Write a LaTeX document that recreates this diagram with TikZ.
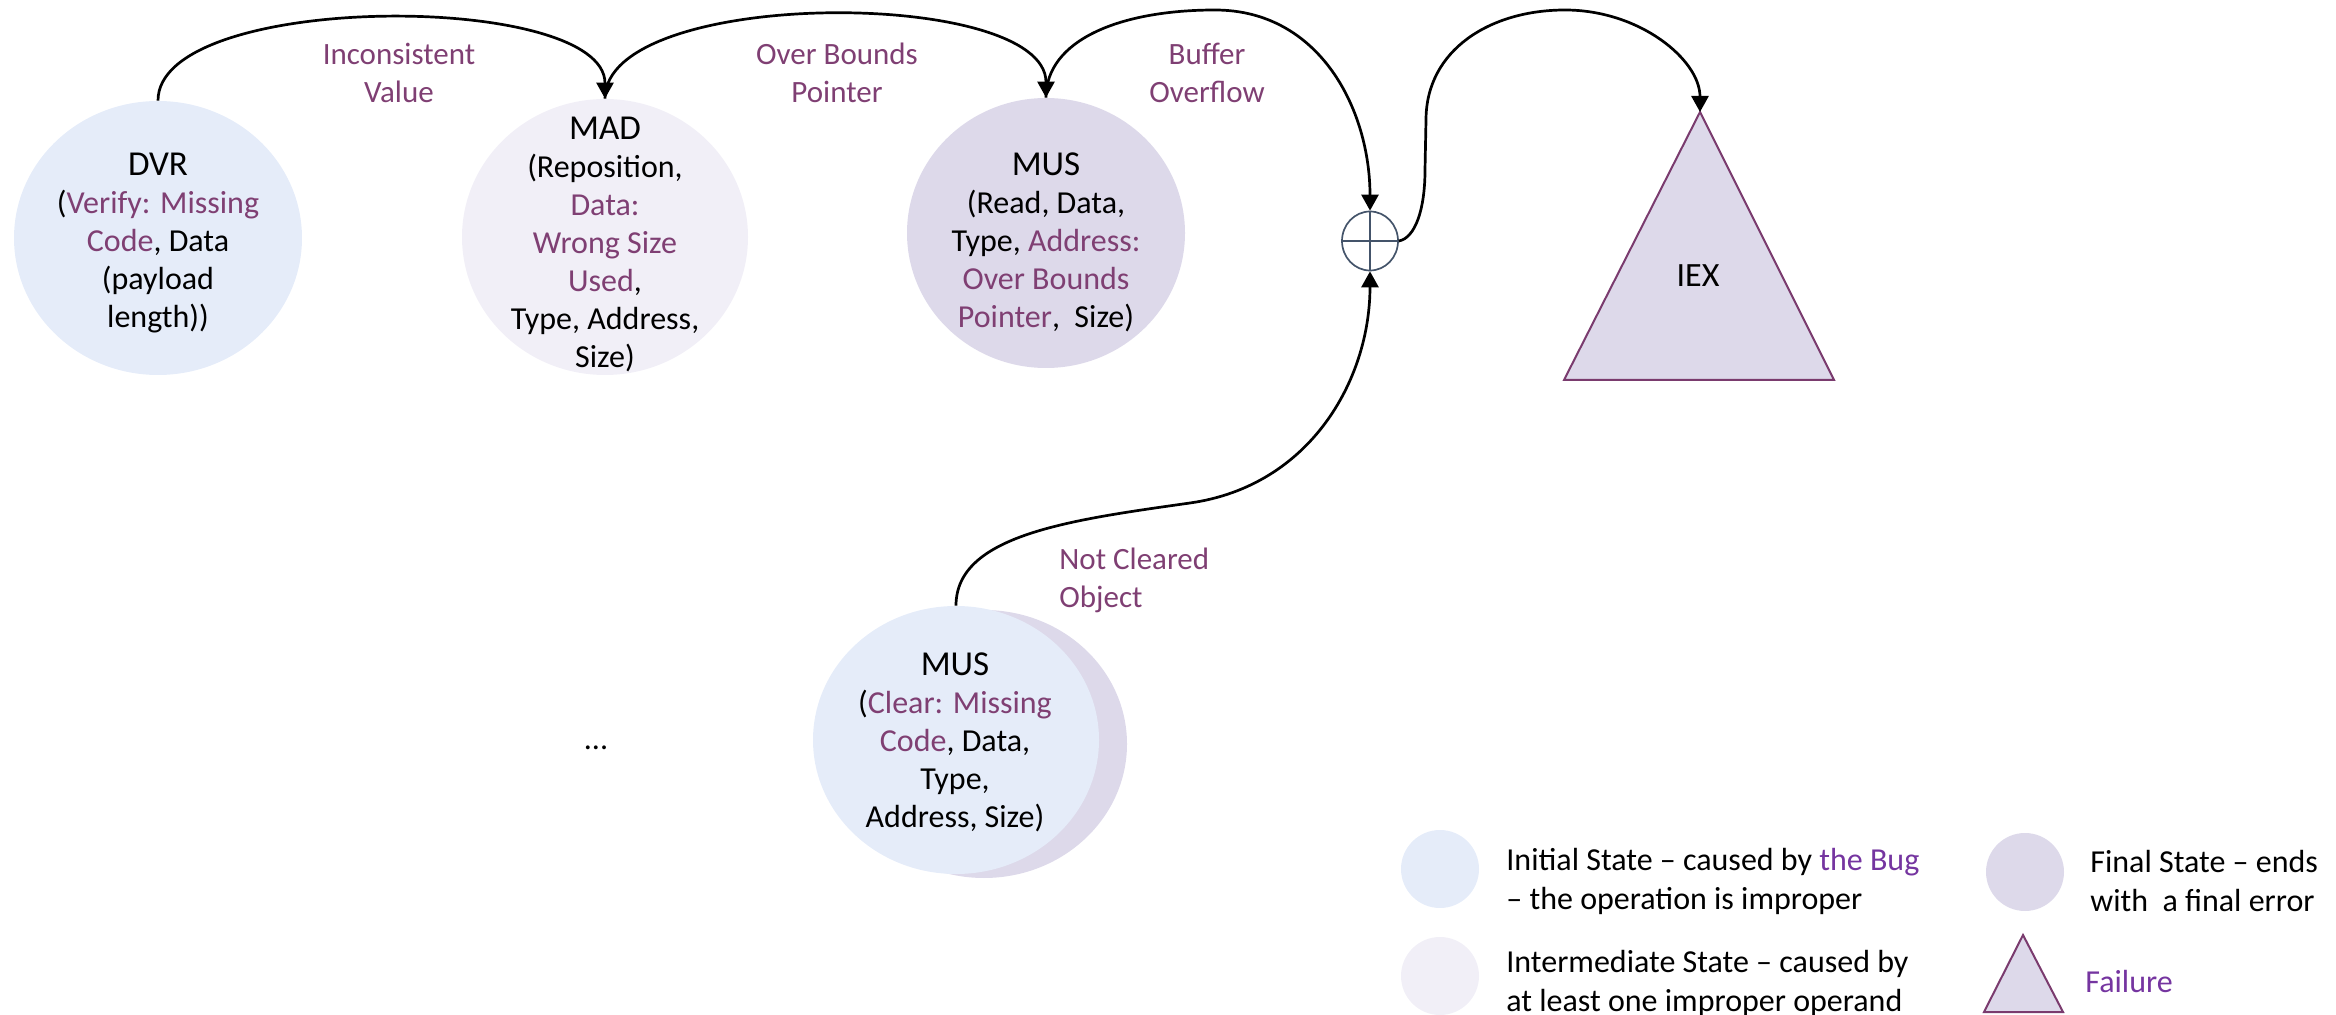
\documentclass[tikz,border=0pt]{standalone}
\usepackage{fontspec}
\setmainfont{Carlito}
\usetikzlibrary{shapes.geometric,arrows.meta}

\definecolor{initfill}{HTML}{E5ECF9}
\definecolor{midfill}{HTML}{F1EFF7}
\definecolor{finalfill}{HTML}{DDD9EA}
\definecolor{plum}{HTML}{7F3F73}
\definecolor{bugviolet}{HTML}{7535A0}
\definecolor{triedge}{HTML}{7A3B6E}
\definecolor{slate}{HTML}{44546A}

\tikzset{
  state/.style={ellipse, inner sep=0pt, draw=none},
  body/.style={align=center, font=\fontsize{16}{19}\selectfont, inner sep=0pt},
  edgelabel/.style={align=center, text=plum, font=\fontsize{15.5}{19}\selectfont, inner sep=0pt},
  flow/.style={line width=1.35pt, -{Triangle[length=8pt,width=8.5pt]}},
  legendtext/.style={align=left, anchor=west, font=\fontsize{16}{19.5}\selectfont, inner sep=0pt},
  failshape/.style={fill=finalfill, draw=triedge, line width=1pt, line join=miter},
}
\newcommand{\hl}[1]{\textcolor{plum}{#1}}
\newcommand{\ttl}[1]{{\fontsize{17.5}{19}\selectfont #1}}

\begin{document}
\begin{tikzpicture}[x=0.5pt,y=-0.5pt]
\useasboundingbox (0,0) rectangle (2336,1015);

% states
\node[state, fill=initfill, minimum width=144pt, minimum height=137pt] (dvr) at (158,238) {};
\node[state, fill=midfill, minimum width=143pt, minimum height=138pt] (mad) at (605,237) {};
\node[state, fill=finalfill, minimum width=139pt, minimum height=135pt] (mus) at (1046,233) {};
\node[state, fill=finalfill, minimum width=143pt, minimum height=134pt] (musback) at (984,744) {};
\node[state, fill=initfill, minimum width=143pt, minimum height=134pt] (mustwo) at (956,740) {};

\node[body] (dvrtext) at (158,243) {\ttl{DVR}\\(\hl{Verify: Missing}\\\hl{Code}, Data\\(payload\\length))};
\node[body] (madtext) at (605,244) {\ttl{MAD}\\(Reposition,\\\hl{Data:}\\\hl{Wrong Size}\\\hl{Used},\\Type, Address,\\Size)};
\node[body] (mustext) at (1046,242) {\ttl{MUS}\\(Read, Data,\\Type, \hl{Address:}\\\hl{Over Bounds}\\\hl{Pointer}, \ Size)};
\node[body] (mustwotext) at (955,742) {\ttl{MUS}\\(\hl{Clear: Missing}\\\hl{Code}, Data,\\Type,\\Address, Size)};
\node[body] (dots) at (596,748) {...};

% junction
\node[ellipse, draw=slate, line width=0.85pt, inner sep=0pt, minimum width=28pt, minimum height=29.5pt] (cp) at (1370,241) {};
\draw[slate, line width=0.85pt] (cp.west) -- (cp.east) (cp.north) -- (cp.south);

% failure
\draw[failshape] (1564,380) -- (1700,112) -- (1834,380) -- cycle;
\coordinate (iex) at (1700,112);
\node[inner sep=0pt, font=\fontsize{17}{19}\selectfont] (iextext) at (1698,276) {IEX};

% edge labels
\node[edgelabel] (lab1) at (399,73) {Inconsistent\\Value};
\node[edgelabel] (lab2) at (837,73) {Over Bounds\\Pointer};
\node[edgelabel] (lab3) at (1207,73) {Buffer\\Overflow};
\node[edgelabel, align=left, anchor=west] (lab4) at (1059,580) {Not Cleared\\Object};

% connectors
\draw[flow] (dvr.north) .. controls (158,-9) and (605,-9) .. (mad.north);
\draw[flow] (mad.north) .. controls (605,-13) and (1046,-13) .. (mus.north);
\draw[flow] (mus.north) .. controls (1046,40) and (1120,10) .. (1215,10)
  .. controls (1320,10) and (1370,110) .. (cp.north);
\draw[flow] (cp.east) .. controls (1415,238) and (1425,210) .. (1425,170) -- (1426,120)
  .. controls (1426,50) and (1490,10) .. (1565,10)
  .. controls (1640,10) and (1700,60) .. (iex);
\draw[flow] (mustwo.north) .. controls (956,535) and (1070,520) .. (1190,503)
  .. controls (1310,486) and (1370,380) .. (cp.south);

% legend
\node[state, fill=initfill, minimum width=39pt, minimum height=39pt] (lginit) at (1440,869) {};
\node[legendtext] (lginittext) at (1506,881) {Initial State -- caused by \textcolor{bugviolet}{the Bug}\\-- the operation is improper};
\node[state, fill=midfill, minimum width=39pt, minimum height=39pt] (lgmid) at (1440,976) {};
\node[legendtext] (lgmidtext) at (1506,983) {Intermediate State -- caused by\\at least one improper operand};
\node[state, fill=finalfill, minimum width=39pt, minimum height=39pt] (lgfinal) at (2025,872) {};
\node[legendtext] (lgfinaltext) at (2090,881) {Final State -- ends\\with \ a final error};
\draw[failshape] (1984,1012) -- (2023,935) -- (2063,1012) -- cycle;
\node[legendtext, text=bugviolet] (lgfail) at (2085,982) {Failure};
\end{tikzpicture}
\end{document}
